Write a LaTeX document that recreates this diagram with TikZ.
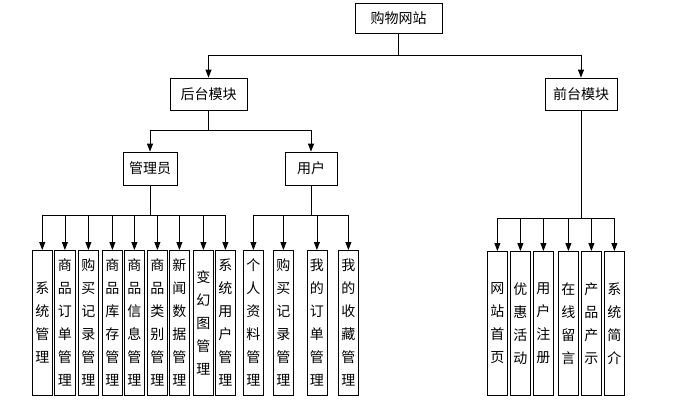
\documentclass[tikz,border=0pt]{standalone}
\usepackage{fontspec}
\newfontfamily\cjk{Noto Sans CJK SC}
\usetikzlibrary{arrows.meta}
\begin{document}
\begin{tikzpicture}[x=1pt,y=-1pt,
  bx/.style={draw,line width=0.8pt,inner sep=0pt,font=\cjk\fontsize{14}{16}\selectfont},
  vb/.style={draw,line width=0.8pt,inner sep=0pt,align=center,anchor=north west,
     font=\cjk\fontsize{14}{23}\selectfont},
  ar/.style={-{Triangle[length=8pt,width=6pt]},line width=0.8pt},
  ln/.style={line width=0.8pt}]
\useasboundingbox (0,0) rectangle (673,413);
\node[bx,minimum width=87pt,minimum height=30pt] (top) at (398.5,18) {购物网站};
\node[bx,minimum width=77pt,minimum height=32pt] (ht) at (208.5,94) {后台模块};
\node[bx,minimum width=72pt,minimum height=32pt] (qt) at (581,94) {前台模块};
\node[bx,minimum width=54pt,minimum height=33pt] (gly) at (150,168.5) {管理员};
\node[bx,minimum width=52pt,minimum height=33pt] (yh) at (311,168.5) {用户};
\coordinate (j1) at (398.5,55);
\draw[ln] (top.south) -- (j1);
\draw[ar] (j1) -| (ht.north);
\draw[ar] (j1) -| (qt.north);
\coordinate (j2) at (208.5,130);
\draw[ln] (ht.south) -- (j2);
\draw[ar] (j2) -| (gly.north);
\draw[ar] (j2) -| (yh.north);
% boxes
\foreach \n/\x/\w/\t in {
 a1/31.7/20.3/{系\\统\\管\\理},
 a2/54/21/{商\\品\\订\\单\\管\\理},
 a3/78/20/{购\\买\\记\\录\\管\\理},
 a4/102/20/{商\\品\\库\\存\\管\\理},
 a5/124/20/{商\\品\\信\\息\\管\\理},
 a6/147/20/{商\\品\\类\\别\\管\\理},
 a7/169/20/{新\\闻\\数\\据\\管\\理},
 a8/193/20/{变\\幻\\图\\管\\理},
 a9/215/20/{系\\统\\用\\户\\管\\理}}
 {\node[vb,minimum width=\w pt,minimum height=145pt] (\n) at (\x,250) {\t};
  \draw[ar] (150,215) -| (\n.north);}
\draw[ln] (gly.south) -- (150,215);
\draw[ln] (a1.north |- 0,215) -- (a9.north |- 0,215);
\foreach \n/\x/\t in {
 b1/243/{个\\人\\资\\料\\管\\理},
 b2/273/{购\\买\\记\\录\\管\\理},
 b3/306.5/{我\\的\\订\\单\\管\\理},
 b4/338/{我\\的\\收\\藏\\管\\理}}
 {\node[vb,minimum width=20pt,minimum height=145pt] (\n) at (\x,250) {\t};
  \draw[ar] (311,215) -| (\n.north);}
\draw[ln] (yh.south) -- (311,215);
\draw[ln] (b1.north |- 0,215) -- (b4.north |- 0,215);
\foreach \n/\x/\t in {
 c1/487/{网\\站\\首\\页},
 c2/510/{优\\惠\\活\\动},
 c3/533/{用\\户\\注\\册},
 c4/558/{在\\线\\留\\言},
 c5/581/{产\\品\\产\\示},
 c6/604/{系\\统\\简\\介}}
 {\node[vb,minimum width=20pt,minimum height=144pt] (\n) at (\x,251) {\t};
  \draw[ar] (581,218) -| (\n.north);}
\draw[ln] (qt.south) -- (581,218);
\draw[ln] (c1.north |- 0,218) -- (c6.north |- 0,218);
\end{tikzpicture}
\end{document}
